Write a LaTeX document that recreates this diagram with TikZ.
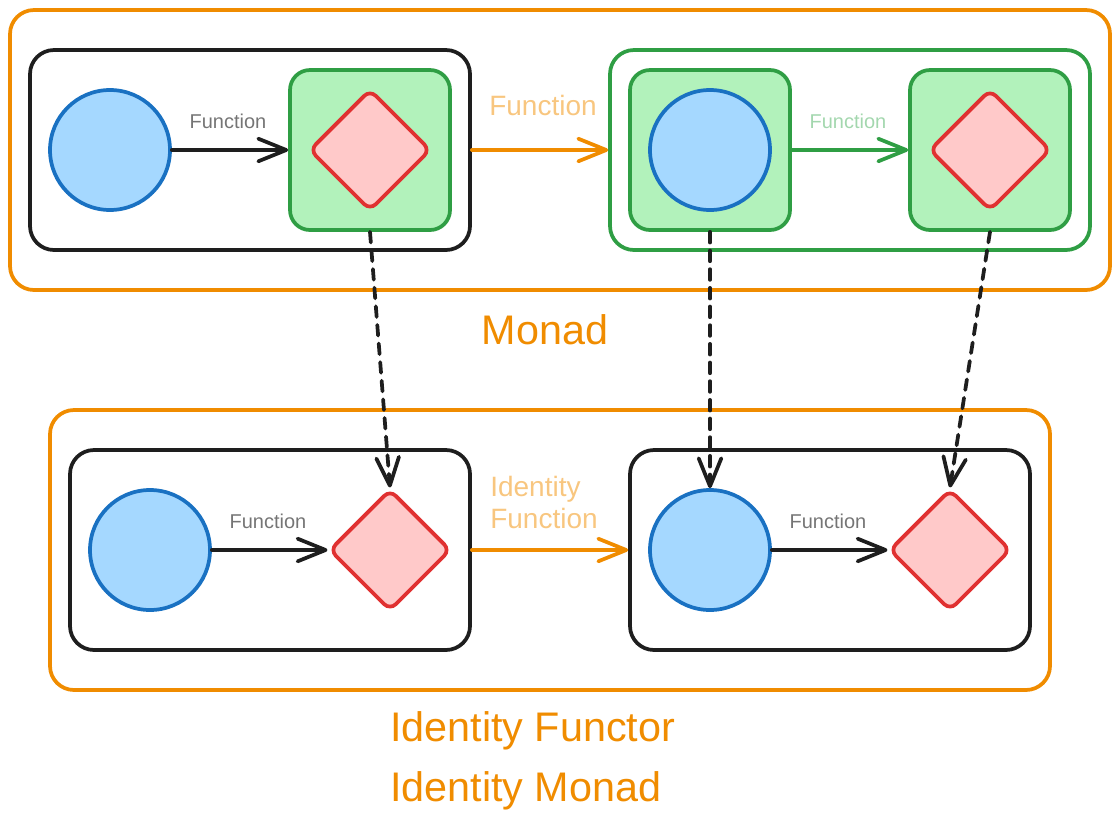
\documentclass[tikz,border=0pt]{standalone}
\usepackage{fontspec}
\setmainfont{Liberation Sans}
\usetikzlibrary{arrows.meta, positioning, shapes.geometric}
\definecolor{ink}{HTML}{1E1E1E}
\definecolor{muted}{HTML}{757575}
\definecolor{warm}{HTML}{F08C00}
\definecolor{warmpale}{HTML}{F8C67F}
\definecolor{good}{HTML}{2F9E44}
\definecolor{goodsoft}{HTML}{B2F2BB}
\definecolor{goodpale}{HTML}{A3D7AE}
\definecolor{blue}{HTML}{1971C2}
\definecolor{bluesoft}{HTML}{A5D8FF}
\definecolor{red}{HTML}{E03131}
\definecolor{redsoft}{HTML}{FFC9C9}
\tikzset{
  >={Straight Barb[length=21pt, width=17pt, round]},
  %
  frame/.style={draw=warm, line width=2.8pt, rounded corners=18pt,
                minimum width=#1, minimum height=210pt, inner sep=0pt},
  pair/.style={draw=ink, line width=2.8pt, rounded corners=18pt,
               minimum width=#1, minimum height=150pt, inner sep=0pt},
  wrap/.style={draw=good, fill=goodsoft, line width=2.8pt, rounded corners=15pt,
               minimum size=120pt, inner sep=0pt},
  dot/.style={circle, draw=blue, fill=bluesoft, line width=2.8pt,
              minimum size=90pt, inner sep=0pt},
  gem/.style={diamond, aspect=1, draw=red, fill=redsoft, line width=2.8pt,
              rounded corners=6pt, minimum size=91pt, inner sep=0pt},
  %
  flow/.style={draw=ink, line width=2.8pt, line cap=round, ->},
  flowwarm/.style={flow, draw=warm},
  flowgood/.style={flow, draw=good},
  flowdash/.style={flow, dash pattern=on 8pt off 6pt, line cap=round},
  %
  lbl/.style={text=muted, font=\fontsize{15}{18}\selectfont, inner sep=0pt},
  lblbig/.style={text=warmpale, font=\fontsize{21}{24}\selectfont, inner sep=0pt},
  hand/.style={text=warm, font=\fontsize{31}{36}\selectfont, inner sep=0pt},
}
\begin{document}
\begin{tikzpicture}[x=0.75pt, y=-0.75pt]
  \useasboundingbox (0,0) rectangle (1120,825);

  % --- monad row -------------------------------------------------------
  \node[frame=825pt] (monad) at (560,150) {};
  \node[pair=330pt] (plain) at (250,150) {};
  \node[pair=360pt, draw=good] (lifted) at (850,150) {};

  \node[dot] (a1) at (110,150) {};
  \node[wrap] (w1) at (370,150) {};
  \node[gem] (b1) at (370,150) {};
  \draw[flow] (a1) -- (w1);
  \node[lbl] at (228,121) {Function};

  \node[wrap] (w2) at (710,150) {};
  \node[dot] (a2) at (710,150) {};
  \node[wrap] (w3) at (990,150) {};
  \node[gem] (b2) at (990,150) {};
  \draw[flowgood] (w2) -- (w3);
  \node[lbl, text=goodpale] at (848,121) {Function};

  \draw[flowwarm] (plain) -- (lifted);
  \node[lblbig] at (543,105) {Function};

  \node[hand] at (545,330) {Monad};

  % --- identity row ----------------------------------------------------
  \node[frame=750pt] (ident) at (550,550) {};
  \node[pair=300pt] (left) at (270,550) {};
  \node[pair=300pt] (right) at (830,550) {};

  \node[dot] (a3) at (150,550) {};
  \node[gem] (b3) at (390,550) {};
  \draw[flow] (a3) -- (b3);
  \node[lbl] at (268,521) {Function};

  \node[dot] (a4) at (710,550) {};
  \node[gem] (b4) at (950,550) {};
  \draw[flow] (a4) -- (b4);
  \node[lbl] at (828,521) {Function};

  \draw[flowwarm] (left) -- (right);
  \node[lblbig, anchor=west, align=left] at (490,502) {Identity\\Function};

  % --- mapping down ----------------------------------------------------
  \draw[flowdash] (w1.south) -- (b3.north);
  \draw[flowdash] (w2.south) -- (a4.north);
  \draw[flowdash] (w3.south) -- (b4.north);

  \node[hand, anchor=west] at (390,731) {Identity Functor};
  \node[hand, anchor=west] at (390,791) {Identity Monad};

\end{tikzpicture}
\end{document}
